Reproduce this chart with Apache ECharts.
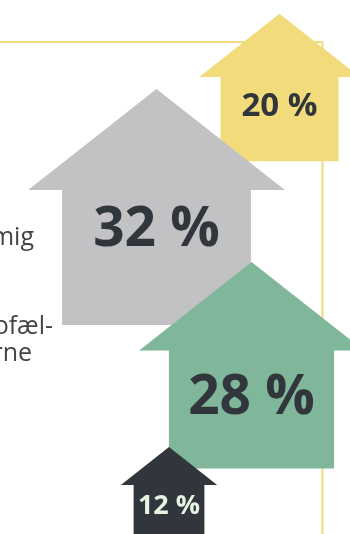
<!DOCTYPE html>
<html>
<head>
<meta charset="utf-8">
<style>
html,body{margin:0;padding:0;background:#fff;}
#chart{width:350px;height:534px;}
</style>
<script src="https://cdn.jsdelivr.net/npm/echarts@6/dist/echarts.min.js"></script>
</head>
<body>
<div id="chart"></div>
<script>
// ---- data ----
const categories = ['yellow', 'gray', 'green', 'dark'];
const values = [20, 32, 28, 12];
const valueLabels = ['20 %', '32 %', '28 %', '12 %'];
const sideTexts = ['mig', 'ofæl-', 'rne'];

// ---- layout / style (kept apart from data) ----
const houseAnchor = [ [279.5, 77], [156.5, 190], [251.5, 350.5], [169, 485] ]; // centre x, eave y
const labelOffset = [30, 40, 48, 21];
const labelFont = [33, 55, 55, 27];
const houseColor = ['#F1DB7B', '#C2C2C4', '#80B69A', '#30363C'];
const labelColor = ['#30363C', '#30363C', '#30363C', '#E8F2E2'];
const pxPerUnit = 5.9;
const framePath = [[0, 42], [322.5, 42], [322.5, 534]];
const sidePos = [[34, 238], [53, 327], [32, 354]];

const chart = echarts.init(document.getElementById('chart'), null, {renderer: 'canvas'});

const seriesData = categories.map((c, i) => [houseAnchor[i][0], houseAnchor[i][1], values[i], i]);

function renderHouse(params, api) {
  const i = api.value(3);
  const v = api.value(2);
  const p = api.coord([api.value(0), api.value(1)]);
  const unit = api.size([1, 1]);
  const W = v * pxPerUnit * unit[0];
  const bodyH = W * 0.715;
  const roofHalf = W * 0.68;
  const roofH = W * 0.535;
  const cx = p[0], ey = p[1];
  const pts = [
    [cx, ey - roofH],
    [cx + roofHalf, ey],
    [cx + W / 2, ey],
    [cx + W / 2, ey + bodyH],
    [cx - W / 2, ey + bodyH],
    [cx - W / 2, ey],
    [cx - roofHalf, ey]
  ];
  return {
    type: 'group',
    children: [
      { type: 'polygon', shape: { points: pts }, style: { fill: houseColor[i] } },
      { type: 'text', x: cx, y: ey + labelOffset[i],
        style: { text: valueLabels[i], fill: labelColor[i], align: 'center', verticalAlign: 'middle',
                 font: 'bold ' + labelFont[i] + 'px "Open Sans"' } }
    ]
  };
}

chart.setOption({
  animation: false,
  grid: { left: 0, right: 0, top: 0, bottom: 0 },
  xAxis: { type: 'value', min: 0, max: 350, show: false },
  yAxis: { type: 'value', min: 0, max: 534, inverse: true, show: false },
  series: [
    { type: 'line', data: framePath, symbol: 'none', silent: true,
      lineStyle: { color: '#F1DB7B', width: 2 }, z: 1 },
    { type: 'custom', renderItem: renderHouse, data: seriesData, z: 2 }
  ],
  graphic: sideTexts.map((t, i) => ({
    type: 'text', x: sidePos[i][0], y: sidePos[i][1],
    style: { text: t, align: 'right', verticalAlign: 'middle', fill: '#444444', font: '400 25px "Open Sans"' }
  }))
});
</script>
</body>
</html>
